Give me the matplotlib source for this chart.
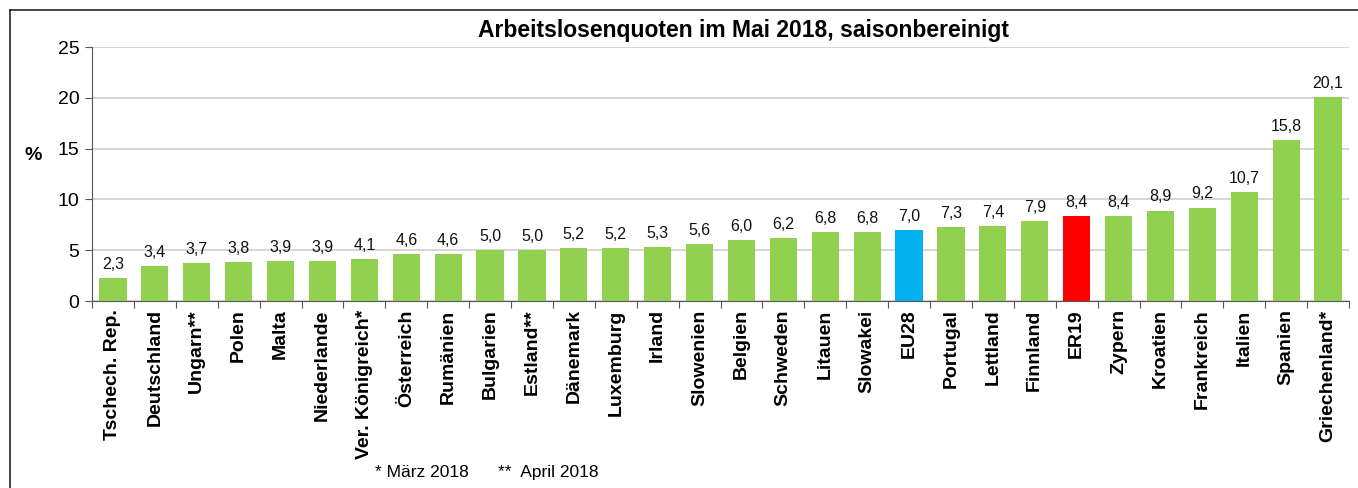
import matplotlib
matplotlib.use("Agg")
import matplotlib.pyplot as plt
import numpy as np
from matplotlib.lines import Line2D

countries = ["Tschech. Rep.", "Deutschland", "Ungarn**", "Polen", "Malta", "Niederlande",
             "Ver. Königreich*", "Österreich", "Rumänien", "Bulgarien", "Estland**", "Dänemark",
             "Luxemburg", "Irland", "Slowenien", "Belgien", "Schweden", "Litauen", "Slowakei",
             "EU28", "Portugal", "Lettland", "Finnland", "ER19", "Zypern", "Kroatien",
             "Frankreich", "Italien", "Spanien", "Griechenland*"]
values = [2.3, 3.4, 3.7, 3.8, 3.9, 3.9, 4.1, 4.6, 4.6, 5.0, 5.0, 5.2, 5.2, 5.3, 5.6, 6.0, 6.2,
          6.8, 6.8, 7.0, 7.3, 7.4, 7.9, 8.4, 8.4, 8.9, 9.2, 10.7, 15.8, 20.1]
yticks = [0, 5, 10, 15, 20, 25]

GREEN = "#92D050"
special = {"EU28": "#00B0F0", "ER19": "#FF0000"}
colors = [special.get(c, GREEN) for c in countries]

plt.rcParams['font.family'] = ['Liberation Sans', 'DejaVu Sans']

fig = plt.figure(figsize=(13.58, 4.88), dpi=100)
W, H = 1358, 488
ax = fig.add_axes([92 / W, 1 - 301 / H, (1349 - 92) / W, (301 - 47) / H])

n = len(countries)
x = np.arange(n)
ax.bar(x, values, width=0.65, color=colors, zorder=3)
for xi, v in zip(x, values):
    ax.text(xi, v + 0.6, f"{v:.1f}".replace(".", ","), ha="center", va="bottom",
            fontsize=11.5, color="#111111")

ax.set_xlim(-0.5, n - 0.5)
ax.set_ylim(0, 25)
ax.set_yticks(yticks)
ax.set_yticklabels([str(t) for t in yticks], fontsize=14)
ax.yaxis.grid(True, color="#D0D0D0", linewidth=1.2, zorder=0)
ax.set_axisbelow(True)

ax.set_xticks(np.arange(n + 1) - 0.5)
ax.set_xticklabels([])
ax.set_xticks(x, minor=True)
ax.set_xticklabels(countries, minor=True, rotation=90, fontsize=14, fontweight="bold")
ax.tick_params(axis="x", which="minor", length=0, pad=6)
ax.tick_params(axis="x", which="major", length=5, direction="out", color="#555555")
ax.tick_params(axis="y", length=5, direction="out", color="#555555", pad=4)

for s in ["top", "right"]:
    ax.spines[s].set_visible(False)
ax.spines["left"].set_color("#555555")
ax.spines["bottom"].set_color("#555555")

fig.text(33 / W, 1 - 155 / H, "%", fontsize=14, fontweight="bold", ha="center", va="center")
fig.text(743 / W, 1 - 31 / H, "Arbeitslosenquoten im Mai 2018, saisonbereinigt",
         fontsize=16.5, fontweight="bold", ha="center", va="center")
fig.text(375 / W, 1 - 473 / H, "* März 2018      **  April 2018",
         fontsize=12.5, ha="left", va="center",
         family=['Liberation Sans Narrow', 'Liberation Sans', 'DejaVu Sans'])

# outer frame (left and top)
fig.add_artist(Line2D([10 / W, 10 / W], [0, 1 - 10 / H], transform=fig.transFigure,
                      color="#222222", linewidth=1.2))
fig.add_artist(Line2D([10 / W, 1], [1 - 10 / H, 1 - 10 / H], transform=fig.transFigure,
                      color="#222222", linewidth=1.2))

fig.savefig("out.png", dpi=100)
